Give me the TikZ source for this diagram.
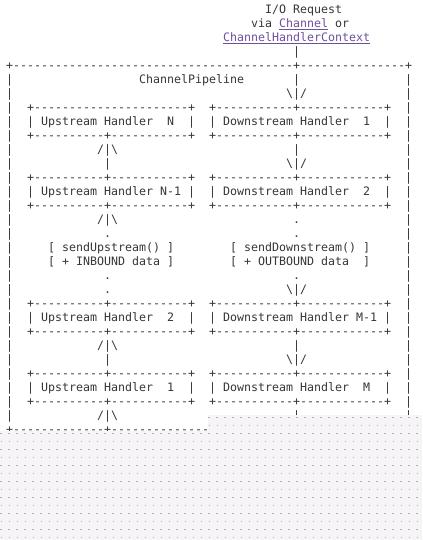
\documentclass[tikz,border=0pt]{standalone}
\usepackage{fontspec}
\setmonofont{DejaVu Sans Mono}
\usepackage{xcolor}
\definecolor{ink}{RGB}{53,56,51}
\definecolor{linkpurple}{RGB}{110,80,160}
\definecolor{maskbg}{RGB}{246,244,246}
\definecolor{maskdot}{RGB}{175,175,175}
\definecolor{maskgreen}{RGB}{110,220,110}
\newcommand\dashrun[1]{\foreach\k in {1,...,#1}{-}}
\newcommand\lnk[1]{\textcolor{linkpurple}{\underline{#1}}}
\newcommand\bkslash{\textbackslash}

\begin{document}
\begin{tikzpicture}[x=5.25pt, y=-10.5pt,
 ascii/.style={font=\ttfamily\fontsize{8.72pt}{10.5pt}\selectfont, text=ink, inner sep=0pt, anchor=base west, xshift=-2.625pt, yshift=-3.15pt}]
\useasboundingbox (-1.3286,-0.6643) rectangle (58.957,37.907);
\fill[white] (-1.3286,-0.6643) rectangle (58.957,37.907);
% request entering the pipeline
\node[ascii] (req) at (37,0) {I/O Request};
\node[ascii] (via) at (35,1) {via \lnk{Channel} or};
\node[ascii] (ctx) at (31,2) {\lnk{ChannelHandlerContext}};
\node[ascii] (reqbar) at (41,3) {|};
% pipeline frame
\node[ascii] (frametop) at (0,4) {+\dashrun{40}+\dashrun{15}+};
\foreach \r in {5,...,29}{
  \node[ascii] (fl\r) at (0,\r) {|};
  \node[ascii] (fr\r) at (57,\r) {|};
}
\node[ascii] (title) at (19,5) {ChannelPipeline};
\node[ascii] (titlebar) at (41,5) {|};
\node[ascii] (inarrow) at (40,6) {\bkslash|/};
% upstream handlers
\foreach \t/\mc/\lbl in {7/-/{\ \ N\ \ },12/+/{\ N-1\ },21/+/{\ \ 2\ \ },26/+/{\ \ 1\ \ }}{
  \node[ascii] (ut\t) at (3,\t) {+\dashrun{10}\mc\dashrun{11}+};
  \node[ascii] (ul\t) at (3,\t+1) {|\ Upstream Handler\lbl|};
  \node[ascii] (ub\t) at (3,\t+2) {+\dashrun{10}+\dashrun{11}+};
}
% downstream handlers
\foreach \t/\lbl in {7/{\ \ 1\ \ },12/{\ \ 2\ \ },21/{\ M-1\ },26/{\ \ M\ \ }}{
  \node[ascii] (dt\t) at (29,\t) {+\dashrun{11}+\dashrun{12}+};
  \node[ascii] (dl\t) at (29,\t+1) {|\ Downstream Handler\lbl|};
  \node[ascii] (db\t) at (29,\t+2) {+\dashrun{11}+\dashrun{12}+};
}
% arrows between handlers
\node[ascii] (upa10) at (13,10) {/|\bkslash};
\node[ascii] (upb11) at (14,11) {|};
\node[ascii] (dna10) at (41,10) {|};
\node[ascii] (dnb11) at (40,11) {\bkslash|/};
\node[ascii] (upa15) at (13,15) {/|\bkslash};
\node[ascii] (upb16) at (14,16) {.};
\node[ascii] (dna15) at (41,15) {.};
\node[ascii] (dnb16) at (41,16) {.};
\node[ascii] (sendup) at (6,17) {[ sendUpstream() ]};
\node[ascii] (inbound) at (6,18) {[ + INBOUND data ]};
\node[ascii] (senddn) at (32,17) {[ sendDownstream() ]};
\node[ascii] (outbound) at (32,18) {[ + OUTBOUND data\ \ ]};
\node[ascii] (upa19) at (14,19) {.};
\node[ascii] (upb20) at (14,20) {.};
\node[ascii] (dna19) at (41,19) {.};
\node[ascii] (dnb20) at (40,20) {\bkslash|/};
\node[ascii] (upa24) at (13,24) {/|\bkslash};
\node[ascii] (upb25) at (14,25) {|};
\node[ascii] (dna24) at (41,24) {|};
\node[ascii] (dnb25) at (40,25) {\bkslash|/};
\node[ascii] (upa29) at (13,29) {/|\bkslash};
\node[ascii] (dna29) at (41,29) {|};
\node[ascii] (framebot) at (0,30) {+\dashrun{13}+\dashrun{14}};
% dotted mask over the lower part
\begin{scope}[shift={(-1.3286,-0.6643)}, x=0.75pt, y=-0.75pt]
\fill[maskbg] (0,431) -- (208,431) -- (208,415) -- (422,415) -- (422,540) -- (0,540) -- cycle;
\foreach \i in {26,...,52}
  \foreach \j in {52,...,67}{
    \fill[maskdot] (8*\i+1,8*\j+1) rectangle ++(1.3,1.3);
    \ifodd\j\else\fill[maskgreen] (8*\i,8*\j+1) rectangle ++(0.8,0.8);\fi
  }
\foreach \i in {0,...,25}
  \foreach \j in {54,...,67}{
    \fill[maskdot] (8*\i+1,8*\j+1) rectangle ++(1.3,1.3);
    \ifodd\j\else\fill[maskgreen] (8*\i,8*\j+1) rectangle ++(0.8,0.8);\fi
  }
\end{scope}
\end{tikzpicture}
\end{document}
